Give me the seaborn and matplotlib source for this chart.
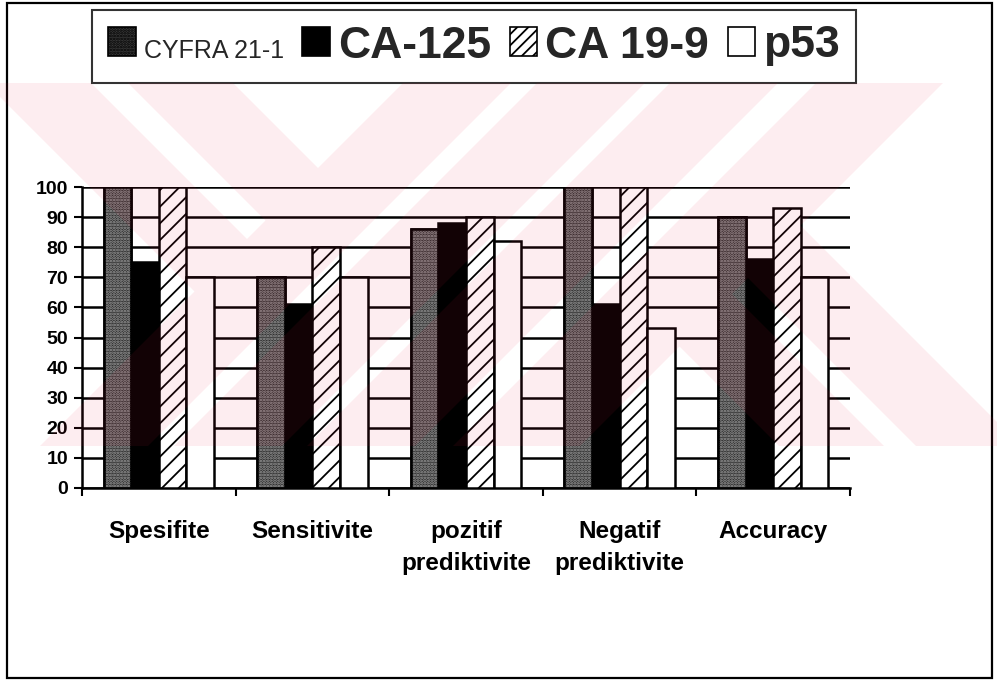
import numpy as np
import pandas as pd
import matplotlib
matplotlib.use("Agg")
import matplotlib.pyplot as plt
import seaborn as sns
from matplotlib.patches import Patch, Rectangle, PathPatch
from matplotlib.path import Path

# ---- data -------------------------------------------------------------
categories = ["Spesifite", "Sensitivite", "pozitif\nprediktivite",
              "Negatif\nprediktivite", "Accuracy"]
markers = ["CYFRA 21-1", "CA-125", "CA 19-9", "p53"]
cyfra_21_1 = [100, 70, 86, 100, 90]
ca_125 = [75, 61, 88, 61, 76]
ca_19_9 = [100, 80, 90, 100, 93]
p53 = [70, 70, 82, 53, 70]
y_ticks = list(range(0, 101, 10))

df = pd.DataFrame({
    "category": categories * 4,
    "marker": [m for m in markers for _ in categories],
    "value": cyfra_21_1 + ca_125 + ca_19_9 + p53,
})

# ---- style ------------------------------------------------------------
sns.set_theme(style="white")
plt.rcParams["font.family"] = ["Liberation Sans", "DejaVu Sans"]
plt.rcParams["hatch.linewidth"] = 1.3

W, H = 997, 682
fig = plt.figure(figsize=(W / 100, H / 100), dpi=100)
fig.patch.set_facecolor("white")


def fx(px):
    return px / W


def fy(py):
    return 1 - py / H


ax = fig.add_axes([fx(82), fy(488), fx(850) - fx(82), fy(187) - fy(488)])
ax.set_facecolor("white")

face = {"CYFRA 21-1": "#2a2a2a", "CA-125": "black",
        "CA 19-9": "white", "p53": "white"}
sns.barplot(data=df, x="category", y="value", hue="marker",
            order=categories, hue_order=markers, palette=face,
            saturation=1, width=0.72, gap=0, edgecolor="black",
            linewidth=1.8, legend=False, ax=ax, zorder=3, errorbar=None)

# speckled texture for CYFRA 21-1, diagonal hatch for CA 19-9
for bar in ax.containers[0]:
    ax.add_patch(Rectangle((bar.get_x(), bar.get_y()), bar.get_width(),
                           bar.get_height(), fill=False, hatch="......",
                           edgecolor="#a0a0a0", linewidth=0, zorder=3.2))
    ax.add_patch(Rectangle((bar.get_x(), bar.get_y()), bar.get_width(),
                           bar.get_height(), fill=False,
                           edgecolor="black", linewidth=1.8, zorder=3.4))
for bar in ax.containers[2]:
    bar.set_hatch("//")

# ---- axes -------------------------------------------------------------
ax.set_xlim(-0.5, len(categories) - 0.5)
ax.set_ylim(0, 100)
ax.set_yticks(y_ticks)
ax.set_yticklabels([str(v) for v in y_ticks], fontsize=14, fontweight="bold")
ax.yaxis.grid(True, color="black", linewidth=1.8)
ax.xaxis.grid(False)
ax.set_axisbelow(True)
for side in ("top", "right"):
    ax.spines[side].set_visible(False)
for side in ("left", "bottom"):
    ax.spines[side].set_color("black")
    ax.spines[side].set_linewidth(1.8)

ax.set_xticks(range(len(categories)))
ax.set_xticks(np.arange(-0.5, len(categories), 1.0), minor=True)
ax.set_xticklabels(categories, fontsize=17.5, fontweight="bold")
for lab in ax.get_xticklabels():
    lab.set_linespacing(1.5)
ax.tick_params(axis="x", which="major", length=0, pad=23, colors="black")
ax.tick_params(axis="x", which="minor", length=6, width=1.5,
               direction="out", colors="black", bottom=True)
ax.tick_params(axis="y", length=6, width=1.5, direction="out",
               colors="black", pad=4, left=True)
ax.set_xlabel("")
ax.set_ylabel("")

# ---- legend -----------------------------------------------------------
handles = [
    Patch(facecolor="#3a3a3a", edgecolor="black", hatch="......", linewidth=1.2),
    Patch(facecolor="black", edgecolor="black", linewidth=1.2),
    Patch(facecolor="white", edgecolor="black", hatch="///", linewidth=1.2),
    Patch(facecolor="white", edgecolor="black", linewidth=1.2),
]
leg = fig.legend(handles, markers, loc="center",
                 bbox_to_anchor=(fx(474), fy(46)), ncol=4,
                 prop={"size": 32, "weight": "bold"},
                 handlelength=0.62, handleheight=0.62, handletextpad=0.18,
                 columnspacing=0.42, borderpad=0.36, frameon=True,
                 fancybox=False, edgecolor="black")
leg.get_frame().set_linewidth(1.5)
leg.get_texts()[0].set_fontsize(18)
leg.get_texts()[0].set_fontweight("normal")

# ---- page frame -------------------------------------------------------
fig.add_artist(Rectangle((fx(7), fy(678)), fx(992) - fx(7), fy(3) - fy(678),
                         transform=fig.transFigure, fill=False,
                         edgecolor="black", linewidth=1.6))

# ---- faint diagonal watermark band ------------------------------------
shapes = [
    [(-14, 83), (91, 83), (247, 239), (194.5, 291.5)],
    [(128, 83), (233, 83), (318, 168), (265.5, 220.5)],
    [(748, 278), (800.5, 225.5), (1021, 446), (916, 446)],
    [(679.5, 346.5), (732, 294), (884, 446), (779, 446)],
]
for x0, x1 in [(394, 502), (528, 636), (661, 769), (807, 934)]:
    shapes.append([(x0 + 9, 83), (x1 + 9, 83), (x1 - 354, 446), (x0 - 354, 446)])
verts, codes = [], []
for poly in shapes:
    pts = [(fx(x), fy(y)) for x, y in poly]
    verts += pts + [pts[0]]
    codes += [Path.MOVETO] + [Path.LINETO] * (len(pts) - 1) + [Path.CLOSEPOLY]
fig.add_artist(PathPatch(Path(verts, codes), transform=fig.transFigure,
                         facecolor=(0.9, 0.1, 0.25), edgecolor="none",
                         alpha=0.08, zorder=10))

fig.savefig("out.png", dpi=100)
